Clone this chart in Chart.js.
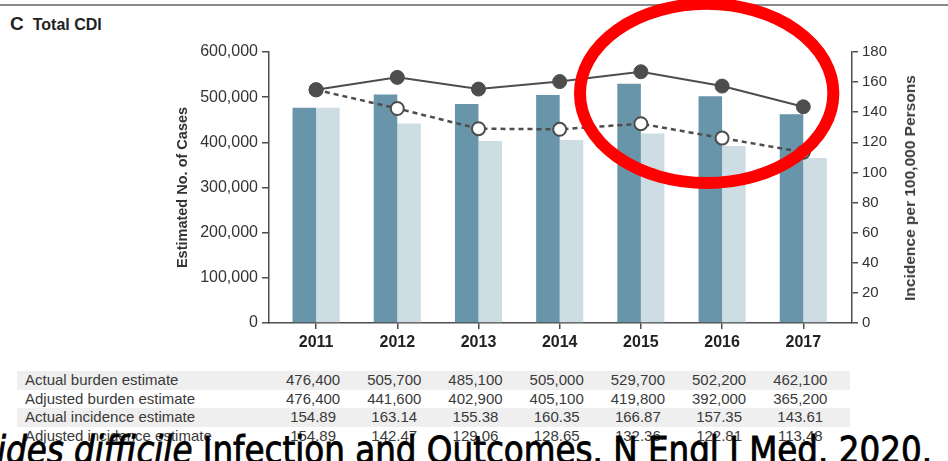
<!DOCTYPE html>
<html lang="en">
<head>
<meta charset="UTF-8">
<title>Total CDI</title>
<script src="https://cdn.jsdelivr.net/npm/chart.js"></script>
<style>
    body {
        margin: 0;
        background: #fff;
        font-family: "Liberation Sans", Arial, sans-serif;
        color: #333;
    }
    .page {
        position: relative;
        width: 948px;
        height: 461px;
        overflow: hidden;
    }
    .rule {
        position: absolute;
        left: 0;
        top: 4px;
        width: 948px;
        height: 2px;
        background: #8a8a8a;
    }
    .panel-title {
        position: absolute;
        left: 10px;
        top: 13px;
        font-weight: bold;
        font-size: 16px;
        line-height: 22px;
        color: #222;
    }
    .panel-title .letter {
        font-size: 19px;
        margin-right: 9px;
    }
    .chart-box {
        position: absolute;
        left: 0;
        top: 0;
        width: 948px;
        height: 365px;
    }
    .rate-title {
        position: absolute;
        left: 910px;
        top: 188px;
        transform: translate(-50%, -50%) rotate(-90deg);
        white-space: nowrap;
        font-weight: bold;
        font-size: 15.5px;
        color: #3a3a3a;
    }
    .estimates {
        position: absolute;
        left: 17px;
        top: 371px;
        width: 833px;
    }
    .estimates .row {
        position: relative;
        height: 18.7px;
        line-height: 18.7px;
        font-size: 15px;
        color: #3a3a3a;
    }
    .estimates .row.band {
        background: #efefef;
    }
    .estimates .label {
        position: absolute;
        left: 8px;
    }
    .estimates .cell {
        position: absolute;
        transform: translateX(-50%);
    }
    .source {
        position: absolute;
        left: -3px;
        top: 432px;
        font-family: "DejaVu Sans", sans-serif;
        font-size: 37px;
        line-height: 37px;
        color: #000;
        -webkit-text-stroke: 0.9px #000;
        white-space: nowrap;
        transform-origin: 0 0;
    }
</style>
</head>
<body>
<div class="page">
    <div class="rule"></div>
    <div class="panel-title"><span class="letter">C</span>Total CDI</div>
    <div class="chart-box"><canvas id="cdiChart" width="948" height="365"></canvas></div>
    <div class="rate-title">Incidence per 100,000 Persons</div>
    <div class="estimates" id="estimates"></div>
    <div class="source" id="source"><i>ides difficile</i> Infection and Outcomes. N Engl J Med. 2020.</div>
</div>

<script>
    const years = [2011, 2012, 2013, 2014, 2015, 2016, 2017];
    const actualBurden = [476400, 505700, 485100, 505000, 529700, 502200, 462100];
    const adjustedBurden = [476400, 441600, 402900, 405100, 419800, 392000, 365200];
    const actualIncidence = [154.89, 163.14, 155.38, 160.35, 166.87, 157.35, 143.61];
    const adjustedIncidence = [154.89, 142.47, 129.06, 128.65, 132.36, 122.81, 113.48];

    // axis ranges
    const yearRange = [2010.42, 2017.6];
    const caseMax = 600000, caseStep = 100000;
    const rateMax = 180, rateStep = 20;

    // circled region (years on x, incidence on the right axis)
    const highlight = { from: 2014.25, to: 2017.37, low: 93, high: 212 };

    const ink = '#4d4d4d';
    const pts = vals => years.map((yr, i) => ({ x: yr, y: vals[i] }));
    const fmtCases = v => v.toLocaleString('en-US');
    const fmtRate = v => v.toFixed(2);

    const highlightPlugin = {
        id: 'highlight',
        afterDraw(chart) {
            const { ctx, scales: { x, y2 } } = chart;
            const left = x.getPixelForValue(highlight.from);
            const right = x.getPixelForValue(highlight.to);
            const top = y2.getPixelForValue(highlight.high);
            const bottom = y2.getPixelForValue(highlight.low);
            ctx.save();
            ctx.beginPath();
            ctx.ellipse((left + right) / 2, (top + bottom) / 2, (right - left) / 2, (bottom - top) / 2, 0, 0, Math.PI * 2);
            ctx.lineWidth = 12;
            ctx.strokeStyle = '#ff0000';
            ctx.stroke();
            ctx.restore();
        }
    };

    const axisGrid = { drawOnChartArea: false, drawTicks: true, color: ink, lineWidth: 1.5 };

    const chart = new Chart(document.getElementById('cdiChart'), {
        type: 'bar',
        data: {
            datasets: [
                {
                    type: 'line',
                    label: 'Actual incidence estimate',
                    data: pts(actualIncidence),
                    yAxisID: 'y2',
                    borderColor: ink,
                    borderWidth: 2,
                    pointRadius: 7,
                    pointBackgroundColor: ink,
                    pointBorderColor: ink,
                    pointBorderWidth: 1,
                    order: 0
                },
                {
                    type: 'line',
                    label: 'Adjusted incidence estimate',
                    data: pts(adjustedIncidence),
                    yAxisID: 'y2',
                    borderColor: ink,
                    borderWidth: 2.5,
                    borderDash: [5, 4],
                    pointRadius: 6.5,
                    pointBackgroundColor: '#fff',
                    pointBorderColor: ink,
                    pointBorderWidth: 2,
                    order: 1
                },
                {
                    label: 'Actual burden estimate',
                    data: pts(actualBurden),
                    yAxisID: 'y',
                    backgroundColor: '#6895a9',
                    barPercentage: 1,
                    categoryPercentage: 0.58,
                    order: 2
                },
                {
                    label: 'Adjusted burden estimate',
                    data: pts(adjustedBurden),
                    yAxisID: 'y',
                    backgroundColor: '#cedce3',
                    barPercentage: 1,
                    categoryPercentage: 0.58,
                    order: 3
                }
            ]
        },
        options: {
            responsive: false,
            animation: false,
            devicePixelRatio: 1,
            layout: { padding: { left: 169, right: 26, top: 52, bottom: 0 } },
            plugins: { legend: { display: false }, tooltip: { enabled: false } },
            scales: {
                x: {
                    type: 'linear',
                    min: yearRange[0],
                    max: yearRange[1],
                    offset: false,
                    afterFit: s => { s.height = 42; },
                    grid: { ...axisGrid, offset: false, tickLength: 6 },
                    border: { color: ink, width: 1.5 },
                    ticks: {
                        stepSize: 1,
                        includeBounds: false,
                        autoSkip: false,
                        maxRotation: 0,
                        padding: 4,
                        color: '#222',
                        font: { family: 'Liberation Sans', size: 16, weight: 'bold' },
                        callback: v => String(v)
                    }
                },
                y: {
                    position: 'left',
                    min: 0,
                    max: caseMax,
                    afterFit: s => { s.width = 100; },
                    grid: { ...axisGrid, tickLength: 7 },
                    border: { color: ink, width: 1.5 },
                    ticks: {
                        stepSize: caseStep,
                        padding: 4,
                        color: '#333',
                        font: { family: 'Liberation Sans', size: 16 },
                        callback: v => fmtCases(v)
                    },
                    title: {
                        display: true,
                        text: 'Estimated No. of Cases',
                        color: '#333',
                        padding: { top: 5, bottom: 0 },
                        font: { family: 'Liberation Sans', size: 14.5, weight: 'bold' }
                    }
                },
                y2: {
                    position: 'right',
                    min: 0,
                    max: rateMax,
                    afterFit: s => { s.width = 70; },
                    grid: { ...axisGrid, tickLength: 6 },
                    border: { color: ink, width: 1.5 },
                    ticks: {
                        stepSize: rateStep,
                        padding: 4,
                        color: '#333',
                        font: { family: 'Liberation Sans', size: 15 }
                    }
                }
            }
        },
        plugins: [highlightPlugin]
    });

    // estimates table under the chart, columns lined up with the year ticks
    const rows = [
        ['Actual burden estimate', actualBurden, fmtCases],
        ['Adjusted burden estimate', adjustedBurden, fmtCases],
        ['Actual incidence estimate', actualIncidence, fmtRate],
        ['Adjusted incidence estimate', adjustedIncidence, fmtRate]
    ];
    const table = document.getElementById('estimates');
    const tableLeft = 17;
    rows.forEach(([label, vals, fmt], r) => {
        const row = document.createElement('div');
        row.className = 'row' + (r % 2 === 0 ? ' band' : '');
        row.innerHTML = `<span class="label">${label}</span>`;
        years.forEach((yr, i) => {
            const cell = document.createElement('span');
            cell.className = 'cell';
            cell.style.left = (chart.scales.x.getPixelForValue(yr) - tableLeft - 3) + 'px';
            cell.textContent = fmt(vals[i]);
            row.appendChild(cell);
        });
        table.appendChild(row);
    });

    // stretch the citation line across the page
    const source = document.getElementById('source');
    source.style.transform = `scaleX(${935 / source.scrollWidth})`;
</script>
</body>
</html>
